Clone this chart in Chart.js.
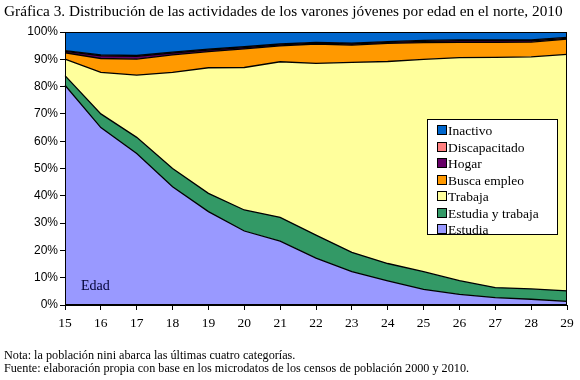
<!DOCTYPE html>
<html>
<head>
<meta charset="utf-8">
<script src="https://cdn.jsdelivr.net/npm/chart.js@4"></script>
<style>
  body { margin: 0; background: #fff; }
  #wrap { position: relative; width: 580px; height: 380px; overflow: hidden; }
  #chart { position: absolute; left: 0; top: 0; }
  .txt { position: absolute; font-family: "Liberation Serif", "DejaVu Serif", serif; color: #000; white-space: nowrap; }
  #title { left: 4px; top: 2px; font-size: 15.3px; }
  #nota { left: 4px; top: 349px; font-size: 12.2px; line-height: 13px; }
  #legend { position: absolute; left: 427px; top: 119px; width: 131px; height: 116px; background: #fff;
            border: 1px solid #000; box-sizing: border-box; padding: 3px 0 0 9px;
            font-family: "Liberation Serif", serif; font-size: 13.5px; }
  #legend div { height: 16.5px; line-height: 16px; }
  #legend span { display: inline-block; width: 8px; height: 8px; border: 1px solid #000; margin-right: 1px; vertical-align: 0px; }
</style>
</head>
<body>
<div id="wrap">
  <canvas id="chart" width="580" height="380"></canvas>
  <div id="title" class="txt">Gráfica 3. Distribución de las actividades de los varones jóvenes por edad en el norte, 2010</div>
  <div id="legend"></div>
  <div id="nota" class="txt">Nota: la población nini abarca las últimas cuatro categorías.<br>Fuente: elaboración propia con base en los microdatos de los censos de población 2000 y 2010.</div>
</div>
<script>
// edades
const edades = ['15', '16', '17', '18', '19', '20', '21', '22', '23', '24', '25', '26', '27', '28', '29'];

// porcentajes por actividad
const estudia        = [80.5, 65.0, 55.5, 43.3, 34.2, 27.1, 23.4, 17.2, 12.2, 8.8, 5.7, 3.9, 2.7, 2.1, 1.3];
const estudiaTrabaja = [3.5, 5.0, 5.9, 6.7, 6.7, 7.7, 8.7, 8.4, 7.1, 6.4, 6.5, 5.0, 3.7, 3.8, 3.9];
const trabaja        = [6.1, 15.2, 22.8, 35.2, 46.0, 52.2, 57.0, 62.9, 69.6, 74.0, 77.8, 81.7, 84.3, 85.0, 86.6];
const buscaEmpleo    = [2.3, 5.1, 5.9, 6.4, 5.9, 6.8, 5.8, 7.1, 6.3, 6.6, 6.1, 5.6, 5.5, 5.4, 5.6];
const hogar          = [0.5, 1.0, 1.0, 0.7, 0.6, 0.5, 0.4, 0.3, 0.4, 0.4, 0.5, 0.6, 0.6, 0.5, 0.3];
const discapacitado  = [0.3, 0.3, 0.3, 0.3, 0.3, 0.3, 0.3, 0.3, 0.3, 0.3, 0.3, 0.3, 0.3, 0.3, 0.3];
const inactivo       = [6.8, 8.4, 8.6, 7.4, 6.3, 5.4, 4.4, 3.8, 4.1, 3.5, 3.1, 2.9, 2.9, 2.9, 2.3];

const series = [
    { label: 'Estudia', data: estudia, color: '#9999FF' },
    { label: 'Estudia y trabaja', data: estudiaTrabaja, color: '#339966' },
    { label: 'Trabaja', data: trabaja, color: '#FFFF9C' },
    { label: 'Busca empleo', data: buscaEmpleo, color: '#FF9900' },
    { label: 'Hogar', data: hogar, color: '#660066' },
    { label: 'Discapacitado', data: discapacitado, color: '#FF8080' },
    { label: 'Inactivo', data: inactivo, color: '#0066CC' }
];

// leyenda (orden inverso, como en el original)
const legend = document.getElementById('legend');
series.slice().reverse().forEach(function(s) {
    const row = document.createElement('div');
    row.innerHTML = '<span style="background:' + s.color + '"></span>' + s.label;
    legend.appendChild(row);
});

// marco del área de trazado y texto "Edad"
const extras = {
    id: 'extras',
    afterDraw: function(chart) {
        const a = chart.chartArea;
        const ctx = chart.ctx;
        ctx.save();
        ctx.strokeStyle = '#000';
        ctx.lineWidth = 1;
        ctx.strokeRect(a.left + 0.5, a.top + 0.5, a.right - a.left - 1, a.bottom - a.top - 1);
        ctx.fillStyle = '#000033';
        ctx.font = '14px "Liberation Serif", serif';
        ctx.textBaseline = 'middle';
        ctx.fillText('Edad', a.left + 16, a.bottom - 19);
        ctx.restore();
    }
};

new Chart(document.getElementById('chart'), {
    type: 'line',
    data: {
        labels: edades,
        datasets: series.map(function(s, i) {
            return {
                label: s.label,
                data: s.data,
                backgroundColor: s.color,
                borderColor: '#000',
                borderWidth: 1.3,
                pointRadius: 0,
                tension: 0,
                fill: i === 0 ? 'origin' : '-1'
            };
        })
    },
    options: {
        responsive: false,
        animation: false,
        layout: { padding: { left: 0, top: 32, right: 13, bottom: 45 } },
        plugins: {
            legend: { display: false },
            tooltip: { enabled: false }
        },
        scales: {
            x: {
                offset: false,
                grid: { drawOnChartArea: false, drawTicks: true, tickLength: 5, color: '#000' },
                border: { display: true, color: '#000' },
                ticks: {
                    color: '#000',
                    maxRotation: 0,
                    autoSkip: false,
                    padding: 5,
                    font: { family: '"Liberation Serif", serif', size: 13.5 }
                },
                afterFit: function(scale) { scale.height = 30; }
            },
            y: {
                stacked: true,
                min: 0,
                max: 100,
                grid: { drawOnChartArea: false, drawTicks: true, tickLength: 5, color: '#000' },
                border: { display: true, color: '#000' },
                ticks: {
                    stepSize: 10,
                    color: '#000',
                    padding: 2,
                    font: { family: '"Liberation Sans", Arial, sans-serif', size: 12 },
                    callback: function(v) { return v + '%'; }
                },
                afterFit: function(scale) { scale.width = 65; }
            }
        }
    },
    plugins: [extras]
});
</script>
</body>
</html>
